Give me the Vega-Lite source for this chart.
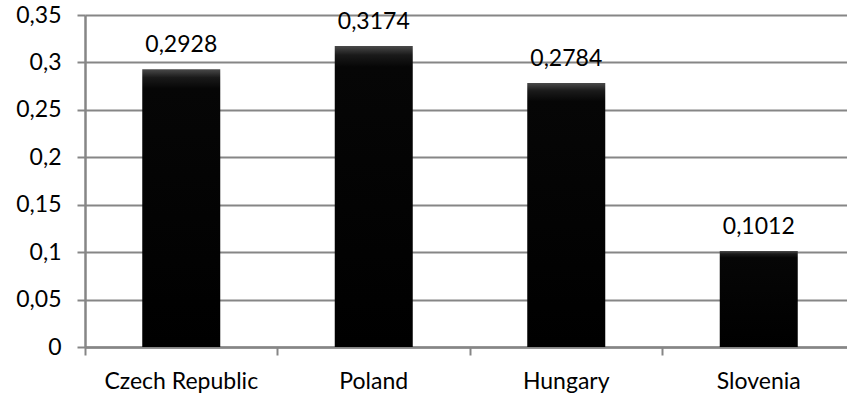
{
  "$schema": "https://vega.github.io/schema/vega-lite/v6.json",
  "autosize": "none",
  "padding": {"left": 85, "top": 15, "right": 0, "bottom": 53},
  "width": 762,
  "height": 332,
  "background": "white",
  "config": {
    "view": {"stroke": null},
    "locale": {"number": {"decimal": ",", "thousands": ".", "grouping": [3], "currency": ["", " €"]}},
    "font": "Lato"
  },
  "data": {
    "values": [
      {"country": "Czech Republic", "value": 0.2928},
      {"country": "Poland", "value": 0.3174},
      {"country": "Hungary", "value": 0.2784},
      {"country": "Slovenia", "value": 0.1012}
    ]
  },
  "encoding": {
    "x": {
      "field": "country",
      "type": "nominal",
      "sort": null,
      "scale": {"paddingInner": 0, "paddingOuter": 0, "range": [0, 770]},
      "axis": {
        "title": null,
        "labelAngle": 0,
        "bandPosition": 0,
        "labelFont": "Lato",
        "labelFontSize": 23,
        "labelColor": "#000000",
        "labelPadding": 15,
        "labelOverlap": false,
        "labelBound": false,
        "labelFlush": false,
        "tickSize": 8,
        "tickColor": "#868686",
        "tickWidth": 2,
        "domainColor": "#868686",
        "domainWidth": 2.5,
        "grid": false
      }
    },
    "y": {
      "field": "value",
      "type": "quantitative",
      "scale": {"domain": [0, 0.35], "nice": false},
      "axis": {
        "title": null,
        "values": [0, 0.05, 0.1, 0.15, 0.2, 0.25, 0.3, 0.35],
        "format": ".2~f",
        "labelFont": "Lato",
        "labelFontSize": 23,
        "labelColor": "#000000",
        "labelPadding": 16,
        "labelFlush": false,
        "labelOverlap": false,
        "tickSize": 8,
        "tickColor": "#868686",
        "tickWidth": 2,
        "domainColor": "#868686",
        "domainWidth": 2.5,
        "gridColor": "#868686",
        "gridWidth": 2
      }
    }
  },
  "layer": [
    {
      "mark": {
        "type": "bar",
        "width": 78,
        "color": {
          "gradient": "linear",
          "x1": 0, "y1": 0, "x2": 0, "y2": 1,
          "stops": [
            {"offset": 0, "color": "#4a4a4a"},
            {"offset": 0.03, "color": "#1a1a1a"},
            {"offset": 0.07, "color": "#060606"},
            {"offset": 1, "color": "#000000"}
          ]
        }
      }
    },
    {
      "mark": {"type": "text", "baseline": "alphabetic", "dy": -17, "font": "Lato", "fontSize": 23, "color": "#000000"},
      "encoding": {
        "text": {"field": "value", "type": "quantitative", "format": ".4f"}
      }
    }
  ]
}
